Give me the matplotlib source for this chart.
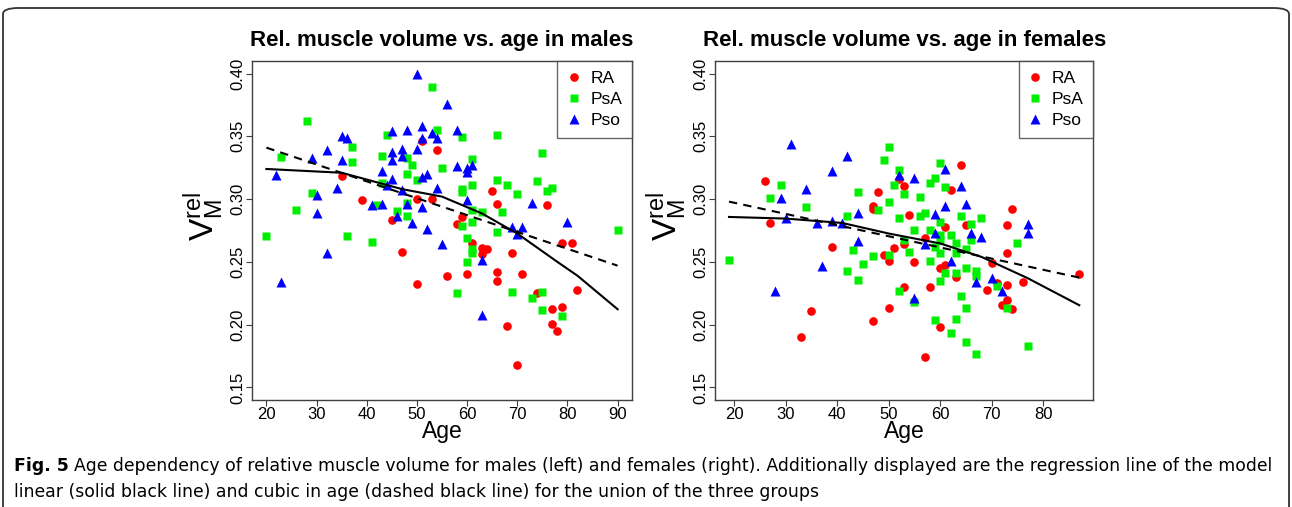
import matplotlib
matplotlib.use('Agg')
import matplotlib.pyplot as plt
from matplotlib.lines import Line2D
from matplotlib.patches import FancyBboxPatch

# ── Style ───────────────────────────────────────────────────────────────────────
plt.rcParams.update({
    'font.family':      ['Liberation Sans', 'DejaVu Sans'],
    'font.size':        12,
    'axes.linewidth':   1.0,
    'axes.edgecolor':   '#404040',
    'xtick.color':      '#404040',
    'ytick.color':      '#404040',
    'xtick.labelcolor': 'black',
    'ytick.labelcolor': 'black',
    'xtick.major.size': 4,
    'ytick.major.size': 4,
    'xtick.major.pad':  1,
    'ytick.major.pad':  1,
    'xtick.labelsize':  12,
    'ytick.labelsize':  12,
})

C_RA, C_PSA, C_PSO = '#FF0000', '#00EE00', '#0000FF'

# ── Data: males ─────────────────────────────────────────────────────────────────
m_ra_age = [35, 39, 45, 50, 51, 54, 53, 47, 50, 65, 66, 76, 59, 58, 61, 63, 64, 63,
            56, 60, 66, 66, 69, 71, 74, 77, 79, 77, 78, 68, 70, 82, 79, 81]
m_ra_v = [0.3185, 0.299, 0.2832, 0.2997, 0.3464, 0.339, 0.300, 0.2575, 0.2322,
          0.3063, 0.296, 0.2952, 0.2858, 0.280, 0.2647, 0.2612, 0.260, 0.2561,
          0.2386, 0.240, 0.2416, 0.2346, 0.2567, 0.240, 0.2256, 0.2123, 0.2142,
          0.2002, 0.1948, 0.1988, 0.1675, 0.2275, 0.2651, 0.2651]

m_psa_age = [28, 23, 29, 26, 37, 37, 42, 46, 48, 48, 44, 43, 48, 49, 48, 43, 50,
             53, 54, 59, 66, 61, 55, 75, 59, 59, 61, 66, 68, 70, 74, 76, 77, 61,
             63, 67, 59, 61, 90, 20, 36, 41, 66, 60, 61, 61, 60, 58, 69, 75, 73,
             75, 79]
m_psa_v = [0.362, 0.3336, 0.305, 0.291, 0.3416, 0.3296, 0.295, 0.2906, 0.2866,
           0.297, 0.3514, 0.3344, 0.333, 0.327, 0.320, 0.313, 0.315, 0.3889,
           0.3554, 0.3495, 0.351, 0.3323, 0.325, 0.3368, 0.3084, 0.3057, 0.311,
           0.315, 0.311, 0.3037, 0.3143, 0.3065, 0.309, 0.2917, 0.2898, 0.2898,
           0.2787, 0.2816, 0.2752, 0.2705, 0.2707, 0.2657, 0.274, 0.2687, 0.260,
           0.2567, 0.250, 0.2256, 0.2261, 0.2261, 0.2209, 0.2115, 0.207]

m_pso_age = [22, 29, 30, 30, 32, 35, 36, 35, 34, 41, 43, 46, 48, 49, 50, 45, 48,
             45, 47, 47, 45, 43, 45, 44, 47, 50, 51, 56, 53, 54, 58, 51, 58, 60,
             61, 60, 51, 52, 54, 60, 73, 80, 69, 71, 51, 52, 23, 32, 55, 63, 63,
             70]
m_pso_v = [0.319, 0.333, 0.303, 0.289, 0.3395, 0.350, 0.349, 0.3315, 0.309,
           0.2957, 0.2965, 0.2866, 0.296, 0.2806, 0.3995, 0.354, 0.3554, 0.3376,
           0.340, 0.3342, 0.331, 0.3225, 0.316, 0.311, 0.307, 0.340, 0.358,
           0.376, 0.3527, 0.349, 0.3549, 0.349, 0.326, 0.3244, 0.327, 0.3217,
           0.3177, 0.3198, 0.309, 0.299, 0.2973, 0.2814, 0.2779, 0.2779, 0.2938,
           0.276, 0.234, 0.2567, 0.264, 0.2519, 0.2081, 0.2726]

m_fit_age = [20, 35, 47, 55, 63, 70, 78, 82, 90]
m_fit_v = [0.324, 0.321, 0.308, 0.302, 0.2885, 0.2726, 0.250, 0.239, 0.2123]
m_lin_age = [20, 90]
m_lin_v = [0.341, 0.247]

# ── Data: females ───────────────────────────────────────────────────────────────
f_ra_age = [26, 27, 47, 47, 48, 52, 53, 54, 64, 62, 74, 73, 65, 61, 33, 35, 39,
            49, 50, 51, 53, 53, 50, 47, 57, 73, 55, 70, 61, 60, 63, 71, 69, 73,
            76, 58, 73, 72, 74, 60, 57, 87]
f_ra_v = [0.3142, 0.2806, 0.2946, 0.292, 0.3053, 0.3164, 0.3103, 0.2872, 0.3275,
          0.3071, 0.2925, 0.2792, 0.2792, 0.2774, 0.1903, 0.2107, 0.2615, 0.2553,
          0.2506, 0.2611, 0.2641, 0.2301, 0.2129, 0.2028, 0.2694, 0.2567, 0.250,
          0.2495, 0.2479, 0.2452, 0.2376, 0.2328, 0.2275, 0.2314, 0.2336, 0.2301,
          0.2195, 0.2155, 0.2123, 0.1983, 0.1739, 0.2402]

f_psa_age = [29, 27, 34, 44, 42, 48, 50, 49, 50, 52, 51, 53, 52, 60, 59, 58, 61,
             56, 56, 57, 64, 68, 66, 60, 55, 58, 19, 43, 47, 45, 42, 44, 50, 53,
             54, 52, 60, 60, 62, 63, 66, 65, 63, 60, 59, 75, 58, 65, 67, 67, 61,
             63, 60, 71, 55, 64, 65, 73, 63, 59, 62, 65, 67, 77]
f_psa_v = [0.3116, 0.3005, 0.2938, 0.3057, 0.2866, 0.2917, 0.2975, 0.331, 0.3416,
           0.323, 0.311, 0.3039, 0.285, 0.3291, 0.3169, 0.3132, 0.3097, 0.3018,
           0.2866, 0.289, 0.2866, 0.285, 0.280, 0.2818, 0.2758, 0.2752, 0.2514,
           0.2593, 0.2545, 0.2482, 0.2428, 0.2354, 0.2551, 0.2673, 0.2575, 0.2269,
           0.2718, 0.2673, 0.2713, 0.2647, 0.2673, 0.260, 0.2567, 0.2567, 0.262,
           0.2647, 0.2508, 0.2452, 0.2426, 0.2386, 0.2408, 0.2408, 0.2346, 0.2309,
           0.2182, 0.2227, 0.2129, 0.2134, 0.2049, 0.2036, 0.1935, 0.1861, 0.1765,
           0.1829]

f_pso_age = [29, 31, 34, 30, 36, 39, 41, 39, 42, 44, 52, 61, 55, 64, 61, 65, 59,
             77, 77, 28, 37, 44, 59, 66, 68, 57, 62, 67, 70, 72, 55]
f_pso_v = [0.3005, 0.3435, 0.3084, 0.2853, 0.2806, 0.2824, 0.2811, 0.3225, 0.3342,
           0.289, 0.319, 0.3236, 0.3172, 0.3105, 0.2943, 0.2959, 0.2885, 0.280,
           0.2734, 0.2269, 0.2468, 0.2667, 0.2731, 0.2731, 0.270, 0.2639, 0.2508,
           0.2341, 0.2368, 0.2269, 0.2213]

f_fit_age = [19, 30, 41, 50, 60, 68, 77, 87]
f_fit_v = [0.2858, 0.2845, 0.281, 0.2726, 0.2647, 0.254, 0.237, 0.2155]
f_lin_age = [19, 87]
f_lin_v = [0.298, 0.2375]

Y_TICKS = [0.15, 0.20, 0.25, 0.30, 0.35, 0.40]


def r_range(lo, hi):
    # R's default 4 % axis expansion
    pad = (hi - lo) * 0.04
    return lo - pad, hi + pad


def draw_panel(ax, title, ra, psa, pso, fit, lin, xticks):
    ax.plot(*ra, 'o', color=C_RA, ms=6.2, mec='none', linestyle='none')
    ax.plot(*psa, 's', color=C_PSA, ms=5.8, mec='none', linestyle='none')
    ax.plot(*pso, '^', color=C_PSO, ms=6.8, mec='none', linestyle='none')
    ax.plot(*fit, '-', color='black', lw=1.5)
    ax.plot(*lin, '--', color='black', lw=1.5, dashes=(4, 3))

    ages = ra[0] + psa[0] + pso[0]
    ax.set_xlim(*r_range(min(ages), max(ages)))
    ax.set_ylim(*r_range(0.15, 0.40))
    ax.set_xticks(xticks)
    ax.set_yticks(Y_TICKS)
    ax.set_yticklabels([f'{t:.2f}' for t in Y_TICKS], rotation=90, va='center')
    ax.set_title(title, fontsize=16, fontweight='bold', pad=11)
    ax.set_xlabel('Age', fontsize=16.5, labelpad=-1.5)
    ax.set_ylabel(r'$\mathregular{V_M^{rel}}$', fontsize=24)
    ax.yaxis.set_label_coords(-0.07, 0.54)

    handles = [
        Line2D([], [], marker='o', color=C_RA, ms=6.2, mec='none', ls='none', label='RA'),
        Line2D([], [], marker='s', color=C_PSA, ms=5.8, mec='none', ls='none', label='PsA'),
        Line2D([], [], marker='^', color=C_PSO, ms=6.8, mec='none', ls='none', label='Pso'),
    ]
    leg = ax.legend(handles=handles, loc='upper right', fontsize=12.5, frameon=True,
                    fancybox=False, borderaxespad=0, handlelength=0.8,
                    handletextpad=0.55, labelspacing=0.35, borderpad=0.55)
    leg.get_frame().set_edgecolor('#404040')
    leg.get_frame().set_linewidth(1.0)


fig = plt.figure(figsize=(12.92, 5.07), dpi=100)
ax_m = fig.add_axes([0.1953, 0.211, 0.2936, 0.6687])
ax_f = fig.add_axes([0.5534, 0.211, 0.2928, 0.6687])

draw_panel(ax_m, 'Rel. muscle volume vs. age in males',
           (m_ra_age, m_ra_v), (m_psa_age, m_psa_v), (m_pso_age, m_pso_v),
           (m_fit_age, m_fit_v), (m_lin_age, m_lin_v), range(20, 91, 10))
draw_panel(ax_f, 'Rel. muscle volume vs. age in females',
           (f_ra_age, f_ra_v), (f_psa_age, f_psa_v), (f_pso_age, f_pso_v),
           (f_fit_age, f_fit_v), (f_lin_age, f_lin_v), range(20, 81, 10))

# ── Outer frame and caption ─────────────────────────────────────────────────────
frame = FancyBboxPatch((3 / 1292, -0.05), 1286 / 1292, 1.05 - 8 / 507,
                       boxstyle='round,pad=0,rounding_size=0.012',
                       transform=fig.transFigure, fill=False,
                       edgecolor='#333333', linewidth=1.3)
fig.patches.append(frame)

cap_font = ['DejaVu Sans']
t1 = fig.text(14 / 1292, 1 - 466 / 507, 'Fig. 5', fontsize=12.45, fontweight='bold',
              family=cap_font, va='center', ha='left')
fig.canvas.draw()
bb = t1.get_window_extent(renderer=fig.canvas.get_renderer())
fig.text((bb.x1 + 5) / 1292, 1 - 466 / 507,
         'Age dependency of relative muscle volume for males (left) and females (right). '
         'Additionally displayed are the regression line of the model',
         fontsize=12.45, family=cap_font, va='center', ha='left')
fig.text(14 / 1292, 1 - 492 / 507,
         'linear (solid black line) and cubic in age (dashed black line) for the union of the three groups',
         fontsize=12.45, family=cap_font, va='center', ha='left')

fig.savefig('out.png', dpi=100)
